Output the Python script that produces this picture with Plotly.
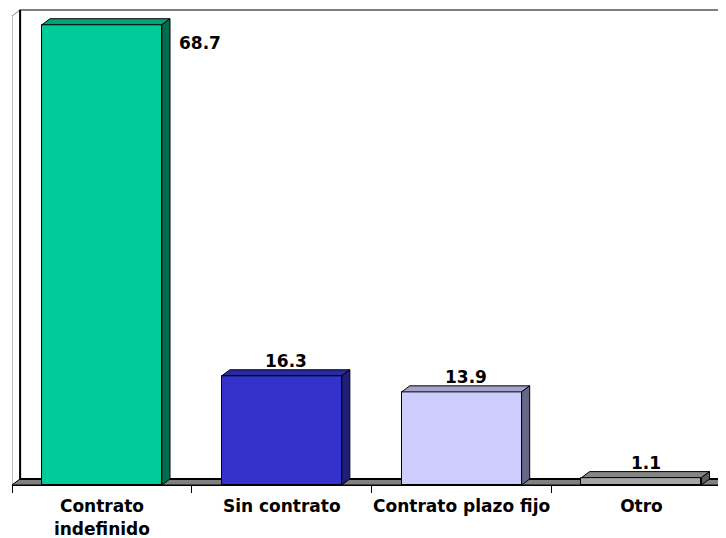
import plotly.graph_objects as go

# data
categories = ["Contrato<br>indefinido", "Sin contrato", "Contrato plazo fijo", "Otro"]
values = [68.7, 16.3, 13.9, 1.1]
labels = ["68.7", "16.3", "13.9", "1.1"]

front_colors = ["#00CC99", "#3333CC", "#CCCCFF", "#A6A6A6"]
top_colors = ["#00A37A", "#2929A3", "#A3A3CC", "#858585"]
side_colors = ["#006B4F", "#1F1F7A", "#666688", "#5C5C5C"]

# 3d look
BAR_W = 0.667
DX = 0.045      # depth offset, category units
DY = 0.9        # depth offset, value units
X_MIN, X_MAX = -0.5, 3.47
Y_MAX = 71.2
WALL = 70

FONT = dict(family="DejaVu Sans", size=17, color="black", weight="bold")

fig = go.Figure()

xs = list(range(len(values)))
fig.add_trace(go.Bar(
    x=xs, y=values, width=BAR_W,
    marker=dict(color=front_colors, line=dict(color="black", width=1)),
    hoverinfo="skip", showlegend=False,
))

for i, v in enumerate(values):
    x0 = i - BAR_W / 2
    x1 = i + BAR_W / 2
    # top face
    fig.add_trace(go.Scatter(
        x=[x0, x0 + DX, x1 + DX, x1, x0],
        y=[v, v + DY, v + DY, v, v],
        fill="toself", fillcolor=top_colors[i], mode="lines",
        line=dict(color="black", width=1),
        hoverinfo="skip", showlegend=False,
    ))
    # side face
    fig.add_trace(go.Scatter(
        x=[x1, x1 + DX, x1 + DX, x1, x1],
        y=[0, DY, v + DY, v, 0],
        fill="toself", fillcolor=side_colors[i], mode="lines",
        line=dict(color="black", width=1),
        hoverinfo="skip", showlegend=False,
    ))

# value labels
for i, v in enumerate(values):
    if v > 60:
        fig.add_annotation(x=i + BAR_W / 2 + DX, y=v, text=labels[i],
                           xanchor="left", yanchor="top", xshift=7, yshift=-6,
                           showarrow=False, font=FONT)
    else:
        fig.add_annotation(x=i + DX / 2, y=v + DY, text=labels[i],
                           xanchor="center", yanchor="bottom", yshift=-3,
                           showarrow=False, font=FONT)

# walls and floor
shapes = [
    # back wall
    dict(type="rect", x0=X_MIN + DX, x1=X_MAX + 1, y0=DY, y1=WALL + DY,
         line=dict(color="#808080", width=2), fillcolor="white", layer="below"),
    # left wall
    dict(type="path",
         path=f"M {X_MIN},0 L {X_MIN},{WALL} L {X_MIN + DX},{WALL + DY} L {X_MIN + DX},{DY} Z",
         line=dict(color="#808080", width=1), fillcolor="white", layer="below"),
    # back-left edge
    dict(type="line", x0=X_MIN + DX, x1=X_MIN + DX, y0=DY, y1=WALL + DY,
         line=dict(color="black", width=2), layer="below"),
    # floor
    dict(type="path",
         path=f"M {X_MIN},0 L {X_MIN + DX},{DY} L {X_MAX + 1},{DY} L {X_MAX + 1},0 Z",
         line=dict(color="black", width=1), fillcolor="#808080", layer="below"),
    dict(type="line", x0=X_MIN + DX, x1=X_MAX + 1, y0=DY, y1=DY,
         line=dict(color="black", width=2), layer="below"),
]

# page body has an 8px margin, so the figure is 8px smaller each way
fig.update_layout(
    width=718, height=530,
    margin=dict(l=4, r=0, t=0, b=53),
    paper_bgcolor="white", plot_bgcolor="white",
    shapes=shapes,
    bargap=0,
    xaxis=dict(
        range=[X_MIN, X_MAX], tickmode="array", tickvals=xs, ticktext=categories,
        ticks="", showgrid=False, zeroline=False, automargin=False,
        showline=True, linecolor="black", linewidth=1,
        tickfont=FONT, ticklabelstandoff=6,
        minor=dict(tickmode="array", tickvals=[-0.5, 0.5, 1.5, 2.5, 3.5],
                   ticks="outside", ticklen=7, tickcolor="black", showgrid=False),
    ),
    yaxis=dict(range=[0, Y_MAX], visible=False, showgrid=False, zeroline=False),
)

fig.write_html("out.html")
